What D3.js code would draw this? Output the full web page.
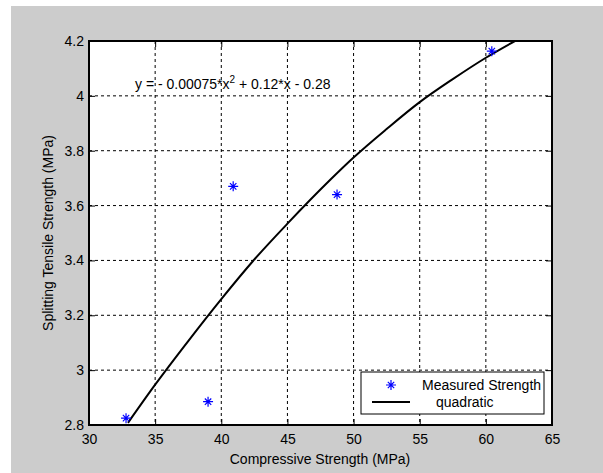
<!DOCTYPE html>
<html lang="en">
	<head>
		<meta charset="utf-8">
		<title>D3: Splitting tensile vs compressive strength</title>
		<script src="https://cdn.jsdelivr.net/npm/d3@7"></script>
		<style type="text/css">
			body { margin: 0; background: #ffffff; }
			text { font-family: "Liberation Sans", Arial, sans-serif; font-size: 14px; fill: #000; }
			.grid line { stroke: #000; stroke-width: 1; stroke-dasharray: 3, 3; }
			.fit { fill: none; stroke: #000; stroke-width: 2; }
			.star { fill: none; stroke: #0000ff; stroke-width: 1.2; }
		</style>
	</head>
	<body>
		<script>
			//Width and height
			var w = 603;
			var h = 473;
			var padL = 89, padR = 552, padT = 41, padB = 425;

			//Measured points
			var compressive = [32.8, 39.0, 40.9, 48.75, 60.45];
			var tensile = [2.825, 2.885, 3.67, 3.64, 4.163];

			//Quadratic fit
			var fitX = [32.95, 35, 37.5, 40, 42.4, 45, 48.2, 50, 52.5, 55, 57.5, 60, 62.2];
			var fitY = [2.808, 2.947, 3.106, 3.259, 3.398, 3.534, 3.692, 3.775, 3.879, 3.977, 4.061, 4.139, 4.20];

			var xTicks = [30, 35, 40, 45, 50, 55, 60, 65];
			var yTicks = [2.8, 3, 3.2, 3.4, 3.6, 3.8, 4, 4.2];

			var xScale = d3.scaleLinear().domain([30, 65]).range([padL, padR]);
			var yScale = d3.scaleLinear().domain([2.8, 4.2]).range([padB, padT]);

			var svg = d3.select("body").append("svg")
				.attr("width", w)
				.attr("height", h);

			//Figure background
			svg.append("rect")
				.attr("x", 11).attr("y", 6)
				.attr("width", w - 11).attr("height", h - 6)
				.attr("fill", "#cccccc");

			svg.append("rect")
				.attr("x", padL).attr("y", padT)
				.attr("width", padR - padL).attr("height", padB - padT)
				.attr("fill", "#ffffff");

			//Grid
			var grid = svg.append("g").attr("class", "grid");
			grid.selectAll(".gx")
				.data(xTicks.slice(1, -1))
				.enter().append("line")
				.attr("class", "gx")
				.attr("x1", function(d) { return xScale(d); })
				.attr("x2", function(d) { return xScale(d); })
				.attr("y1", padT).attr("y2", padB);
			grid.selectAll(".gy")
				.data(yTicks.slice(1, -1))
				.enter().append("line")
				.attr("class", "gy")
				.attr("x1", padL).attr("x2", padR)
				.attr("y1", function(d) { return yScale(d); })
				.attr("y2", function(d) { return yScale(d); });

			//Axes, MATLAB style: ticks pointing inward on all four sides
			svg.append("g")
				.attr("transform", "translate(0," + padB + ")")
				.call(d3.axisBottom(xScale).tickValues(xTicks).tickSize(-6).tickPadding(9).tickFormat(d3.format("d")))
				.call(function(g) { g.select(".domain").remove(); });
			svg.append("g")
				.attr("transform", "translate(0," + padT + ")")
				.call(d3.axisTop(xScale).tickValues(xTicks).tickSize(-6).tickFormat(""))
				.call(function(g) { g.select(".domain").remove(); });
			svg.append("g")
				.attr("transform", "translate(" + padL + ",0)")
				.call(d3.axisLeft(yScale).tickValues(yTicks).tickSize(-6).tickPadding(5).tickFormat(function(d) { return d3.format("~g")(d); }))
				.call(function(g) { g.select(".domain").remove(); });
			svg.append("g")
				.attr("transform", "translate(" + padR + ",0)")
				.call(d3.axisRight(yScale).tickValues(yTicks).tickSize(-6).tickFormat(""))
				.call(function(g) { g.select(".domain").remove(); });
			svg.selectAll(".tick line").attr("stroke", "#000");
			svg.selectAll(".tick text").style("font-size", "14px").style("font-family", "Liberation Sans, Arial, sans-serif");

			//Fitted curve
			var line = d3.line()
				.curve(d3.curveMonotoneX)
				.x(function(d, i) { return xScale(fitX[i]); })
				.y(function(d) { return yScale(d); });
			svg.append("path")
				.datum(fitY)
				.attr("class", "fit")
				.attr("d", line);

			//Asterisk marker path
			function star(cx, cy) {
				var a = 5, b = 3.2;
				return "M" + (cx - a) + "," + cy + "H" + (cx + a) +
					"M" + cx + "," + (cy - a) + "V" + (cy + a) +
					"M" + (cx - b) + "," + (cy - b) + "L" + (cx + b) + "," + (cy + b) +
					"M" + (cx - b) + "," + (cy + b) + "L" + (cx + b) + "," + (cy - b);
			}

			svg.selectAll(".pt")
				.data(tensile)
				.enter().append("path")
				.attr("class", "star pt")
				.attr("d", function(d, i) { return star(xScale(compressive[i]), yScale(d)); });

			//Axis box
			svg.append("rect")
				.attr("x", padL).attr("y", padT)
				.attr("width", padR - padL).attr("height", padB - padT)
				.attr("fill", "none")
				.attr("stroke", "#000")
				.attr("stroke-width", 2);

			//Equation
			var eq = svg.append("text")
				.attr("x", 135)
				.attr("y", 89);
			eq.append("tspan").text("y = - 0.00075*x");
			eq.append("tspan").attr("dy", -6).style("font-size", "10px").text("2");
			eq.append("tspan").attr("dy", 6).text(" + 0.12*x - 0.28");

			//Legend
			var legend = svg.append("g");
			legend.append("rect")
				.attr("x", 361).attr("y", 372)
				.attr("width", 183).attr("height", 42)
				.attr("fill", "#ffffff")
				.attr("stroke", "#000")
				.attr("stroke-width", 1);
			legend.append("path")
				.attr("class", "star")
				.attr("d", star(391, 385));
			legend.append("text")
				.attr("x", 422).attr("y", 390)
				.text("Measured Strength");
			legend.append("line")
				.attr("x1", 372).attr("x2", 410)
				.attr("y1", 402).attr("y2", 402)
				.attr("stroke", "#000")
				.attr("stroke-width", 2);
			legend.append("text")
				.attr("x", 436).attr("y", 407)
				.text("quadratic");

			//Axis labels
			svg.append("text")
				.attr("x", 320)
				.attr("y", 464)
				.attr("text-anchor", "middle")
				.text("Compressive Strength (MPa)");

			svg.append("text")
				.attr("transform", "translate(53,233) rotate(-90)")
				.attr("text-anchor", "middle")
				.text("Splitting Tensile Strength (MPa)");
		</script>
	</body>
</html>
